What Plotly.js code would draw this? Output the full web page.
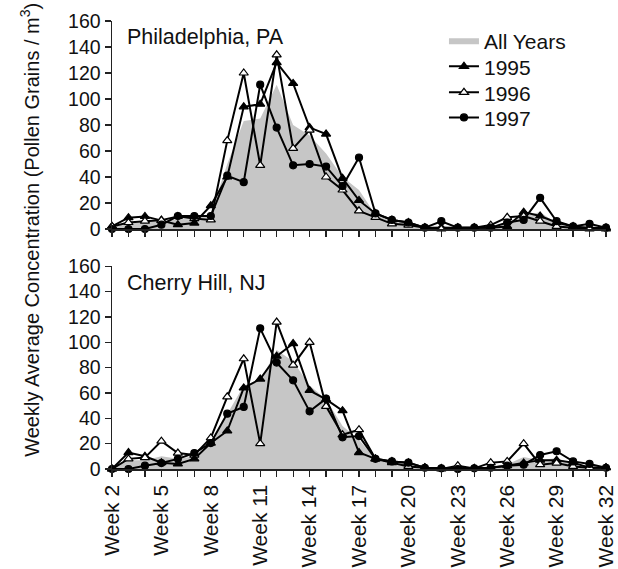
<!DOCTYPE html>
<html>
<head>
<meta charset="utf-8">
<script src="https://cdn.plot.ly/plotly-3.0.1.min.js"></script>
<style>html,body{margin:0;padding:0;background:#fff;}#chart{width:618px;height:569px;}</style>
</head>
<body>
<div id="chart"></div>
<script>
const weeks = [2,3,4,5,6,7,8,9,10,11,12,13,14,15,16,17,18,19,20,21,22,23,24,25,26,27,28,29,30,31,32];
const labeledWeeks = [2,5,8,11,14,17,20,23,26,29,32];
const weekLabels = ["Week 2","Week 5","Week 8","Week 11","Week 14","Week 17","Week 20","Week 23","Week 26","Week 29","Week 32"];

// Philadelphia, PA
const phlAll  = [1.3,4.6,5.2,5.6,7.7,7.5,11.7,50,83,85,111,80,72,58,40,30,11,6,4.3,1,2.3,1,1,1.7,5.3,10,13,4.3,1.7,1.7,0.7];
const phl1995 = [2,8.7,9.7,6.7,3.3,4.6,18,40,94,96,128,112,78,73,39,22,12,7,5,1,1,1,1,1,2,13,10,5,2,1,1];
const phl1996 = [2,5,6,6.7,9.7,8,7,68,120,49,134,62,76,40,30,14,9,4,3,1,0,1,1,3,9,10,6,2,1,0,0];
const phl1997 = [0,0,0,3.3,10,10,10,41,36,111,78,49,50,48,33,55,12,7,5,1,6,1,1,1,5,7,24,6,2,4,1];

// Cherry Hill, NJ
const cheAll  = [0,7,7,10,8,10,21,44,66,70,94,85,66,55,34,23,8,5.7,4,1,0.3,1,0.5,2.3,3.7,9.4,7,8.6,4.3,2.5,1];
const che1995 = [0,13,10,5,4,8,20.5,30,64,71,89,99,62,55,46,13,8,6,5,1,0.5,0.5,0.5,1,2.6,4.7,7,7,5,1,1];
const che1996 = [0,8,9,22,12.6,11,24.5,57,87,20,116,82,100,49.5,27,31,8,5,2,1,0,2.6,0.5,5,6,20,3.4,4.7,2,1,1];
const che1997 = [0,0,2.6,4.7,8,12.6,20.5,43.7,49,111,84,70,45.5,55.5,25,26,8,6,5,1,0.5,0,0.5,1,2.6,3.4,11,14,6,4,1];

const seriesNames = ["All Years","1995","1996","1997"];
const FONT = "Liberation Sans, Arial, sans-serif";
const legendIds = ["legend","legend2","legend3","legend4"];

const gray = "rgb(198,198,198)";
const styles = [
  {symbol:"triangle-up", size:8, color:"#000"},
  {symbol:"triangle-up", size:8, color:"#fff"},
  {symbol:"circle", size:7, color:"#000"}
];

function traces(all, s95, s96, s97, xa, ya, showLeg) {
  const out = [{
    x: weeks, y: all, type:"scatter", mode:"lines", fill:"tozeroy",
    fillcolor: gray, line:{width:0, color:gray}, name: seriesNames[0],
    xaxis: xa, yaxis: ya, showlegend: showLeg, legend: legendIds[0], hoverinfo:"skip"
  }];
  [s95, s96, s97].forEach((s, i) => {
    const st = styles[i];
    out.push({
      x: weeks, y: s, type:"scatter", mode:"lines+markers", name: seriesNames[i+1],
      line:{color:"#000", width:2},
      marker:{symbol:st.symbol, size:st.size, color:st.color, line:{color:"#000", width:1.2}},
      xaxis: xa, yaxis: ya, showlegend: showLeg, legend: legendIds[i+1], cliponaxis:false, hoverinfo:"skip"
    });
  });
  return out;
}

const data = traces(phlAll, phl1995, phl1996, phl1997, "x", "y", true)
  .concat(traces(cheAll, che1995, che1996, che1997, "x2", "y2", false));

const axX = {
  range:[2,32], tickmode:"array", ticks:"outside", ticklen:6, tickwidth:1.2, tickcolor:"#222",
  minor:{tickmode:"array", tickvals: weeks, ticks:"outside", ticklen:6, tickwidth:1.2, tickcolor:"#222", showgrid:false},
  showline:true, linecolor:"#222", linewidth:1.5, showgrid:false, zeroline:false,
  tickfont:{family:FONT, size:21, color:"#111"}, ticklabeloverflow:"allow"
};
const axY = {
  range:[0,160], dtick:20, ticks:"outside", ticklen:6, tickwidth:1.2, tickcolor:"#222",
  showline:true, linecolor:"#222", linewidth:1.5, showgrid:false, zeroline:false,
  tickfont:{family:FONT, size:19.5, color:"#111"}
};

function legendAt(y) {
  return {x:0.672, y:y, xanchor:"left", yanchor:"middle", bgcolor:"rgba(0,0,0,0)",
          font:{family:FONT, size:21, color:"#111"}, itemwidth:30};
}

const layout = {
  width:618, height:569,
  margin:{l:112, r:12, t:21, b:100},
  paper_bgcolor:"#fff", plot_bgcolor:"rgba(0,0,0,0)",
  font:{family:FONT, color:"#111"},
  showlegend:true,
  legend: legendAt(0.956),
  legend2: legendAt(0.898),
  legend3: legendAt(0.840),
  legend4: legendAt(0.784),
  xaxis: Object.assign({}, axX, {domain:[0,1], anchor:"y", tickvals: labeledWeeks, showticklabels:false}),
  yaxis: Object.assign({}, axY, {domain:[0.5357,1], anchor:"x"}),
  xaxis2: Object.assign({}, axX, {domain:[0,1], anchor:"y2", tickvals: labeledWeeks, ticktext: weekLabels, tickangle:-90}),
  yaxis2: Object.assign({}, axY, {domain:[0,0.4525], anchor:"x2"}),
  annotations:[
    {text:"Philadelphia, PA", xref:"paper", yref:"paper", x:0.026, y:0.965, xanchor:"left", yanchor:"middle",
     showarrow:false, font:{family:FONT, size:21.5, color:"#111"}},
    {text:"Cherry Hill, NJ", xref:"paper", yref:"paper", x:0.026, y:0.4158, xanchor:"left", yanchor:"middle",
     showarrow:false, font:{family:FONT, size:21.5, color:"#111"}},
    {text:"Weekly Average Concentration (Pollen Grains / m<sup>3</sup>)", xref:"paper", yref:"paper",
     x:-0.1660, y:0.534, xanchor:"center", yanchor:"middle", textangle:-90, showarrow:false,
     font:{family:FONT, size:20, color:"#111"}}
  ]
};

Plotly.newPlot("chart", data, layout, {staticPlot:true, displayModeBar:false});
</script>
</body>
</html>
